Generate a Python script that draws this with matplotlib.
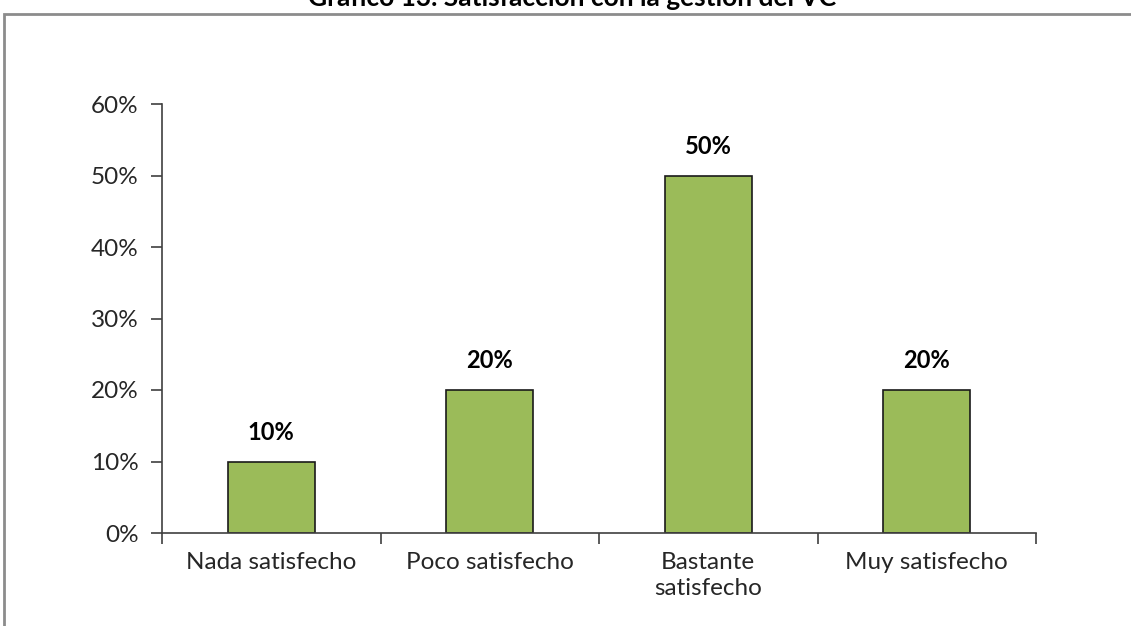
import matplotlib.pyplot as plt
import matplotlib.patches as patches
import matplotlib.ticker as ticker
import numpy as np

categorias = ["Nada satisfecho", "Poco satisfecho", "Bastante\nsatisfecho", "Muy satisfecho"]
valores = [10, 20, 50, 20]
etiquetas = ["10%", "20%", "50%", "20%"]
titulo = "Gráfico 13. Satisfacción con la gestión del VC"

plt.rcParams['font.family'] = ['Lato', 'DejaVu Sans']

W, H = 1131, 626
fig = plt.figure(figsize=(W / 100, H / 100), dpi=100)

# marco gris recortado
fig.patches.append(patches.Rectangle((4 / W, -0.1), 1.2, 1 - 14 / H + 0.1,
                                     transform=fig.transFigure, fill=False,
                                     edgecolor="#8c8c8c", linewidth=2))

ax = fig.add_axes([162 / W, 1 - 533 / H, (1036 - 162) / W, (533 - 104) / H])

x = np.arange(len(categorias))
ax.bar(x, valores, width=0.4, color="#9bbb59", edgecolor="#1a1a1a", linewidth=1.2)
for xi, v, lab in zip(x, valores, etiquetas):
    ax.text(xi, v + 2.5, lab, ha="center", va="bottom", fontsize=17,
            fontweight="bold", color="black")

ax.set_xlim(-0.5, len(categorias) - 0.5)
ax.set_ylim(0, 60)
ax.yaxis.set_major_locator(ticker.MultipleLocator(10))
ax.yaxis.set_major_formatter(ticker.FuncFormatter(lambda v, p: "%d%%" % v))

ax.set_xticks(np.arange(-0.5, len(categorias), 1))
ax.set_xticklabels([])
ax.set_xticks(x, minor=True)
ax.set_xticklabels(categorias, minor=True, linespacing=1.25)
ax.tick_params(axis="x", which="minor", length=0, pad=14, labelsize=17.5, labelcolor="#262626")
ax.tick_params(axis="x", which="major", length=8, direction="out", color="#404040", width=1.2)
ax.tick_params(axis="y", length=8, direction="out", color="#404040", width=1.2,
               labelsize=17.5, labelcolor="#262626", pad=9)

for s in ["top", "right"]:
    ax.spines[s].set_visible(False)
for s in ["left", "bottom"]:
    ax.spines[s].set_color("#404040")
    ax.spines[s].set_linewidth(1.2)

fig.text(572 / W, 1 - 6 / H, titulo, ha="center", va="baseline", fontsize=19,
         fontweight="bold", color="black")

plt.savefig("out.png", dpi=100)
